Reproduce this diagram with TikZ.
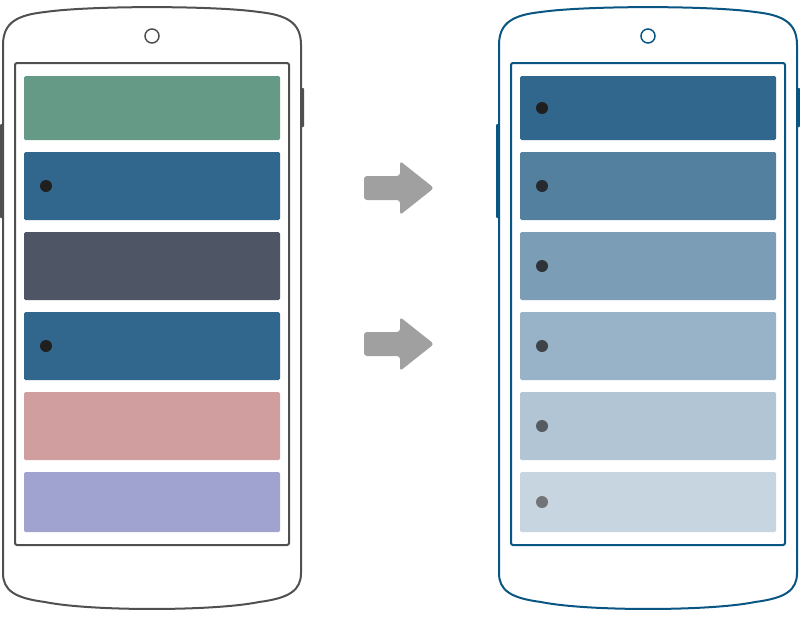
\documentclass[tikz,border=0pt]{standalone}
\usepackage[dvipsnames]{xcolor}
\usepackage{tikz}
\usetikzlibrary{positioning}
\definecolor{oldline}{HTML}{505050}
\definecolor{newline}{HTML}{0A5683}
\definecolor{arrowgray}{HTML}{A0A0A0}
\definecolor{cgreen}{HTML}{659A87}
\definecolor{cblue}{HTML}{32678D}
\definecolor{cslate}{HTML}{4E5565}
\definecolor{cpink}{HTML}{D09E9E}
\definecolor{clav}{HTML}{A0A2CF}
\definecolor{bluea}{HTML}{53809F}
\definecolor{blueb}{HTML}{7B9EB6}
\definecolor{bluec}{HTML}{98B3C7}
\definecolor{blued}{HTML}{B2C5D4}
\definecolor{bluee}{HTML}{C7D5E0}
\tikzset{bar/.style = {rectangle,rounded corners=1.5pt,minimum width=256pt,inner sep=0pt},
         dot/.style = {circle,inner sep=0pt,minimum size=12pt},
         bigarrow/.style = {fill=arrowgray,rounded corners=3pt}}
% outline of one phone, #1 = line colour
\newcommand{\phoneshape}[1]{
    \fill [#1, rounded corners=1pt] (0,124) rectangle (3.5,218);
    \fill [#1, rounded corners=1pt] (300.5,88) rectangle (304,127);
    \draw [#1, line width=2pt, fill=white] (3,45) .. controls (3,22) and (18,15) .. (45,12)
        .. controls (90,5.5) and (214,5.5) .. (259,12)
        .. controls (286,15) and (301,22) .. (301,45) -- (301,573)
        .. controls (301,590) and (290,598) .. (259,602)
        .. controls (214,611.3) and (90,611.3) .. (45,602)
        .. controls (14,598) and (3,590) .. (3,573) -- cycle;
    \draw [#1, line width=1.5pt] (152,36) circle (7);
    \draw [#1, line width=2pt, rounded corners=2pt] (15,63) rectangle (289,545);
}

\begin{document}
\begin{tikzpicture}[x=1pt,y=-1pt]
    \useasboundingbox (0,0) rectangle (800,616);
    \begin{scope}
        \phoneshape{oldline}
        \node [bar, fill=cgreen, minimum height=64pt] (L1) at (152,108) {};
        \node [bar, fill=cblue,  minimum height=68pt] (L2) at (152,186) {};
        \node [bar, fill=cslate, minimum height=68pt] (L3) at (152,266) {};
        \node [bar, fill=cblue,  minimum height=68pt] (L4) at (152,346) {};
        \node [bar, fill=cpink,  minimum height=68pt] (L5) at (152,426) {};
        \node [bar, fill=clav,   minimum height=60pt] (L6) at (152,502) {};
        \node [dot, fill=black!88] (L2dot) at (46,186) {};
        \node [dot, fill=black!88] (L4dot) at (46,346) {};
    \end{scope}

    \fill [bigarrow] (364,176) -- (400,176) -- (400,161) -- (434,188) -- (400,215) -- (400,200) -- (364,200) -- cycle;
    \fill [bigarrow] (364,332) -- (400,332) -- (400,317) -- (434,344) -- (400,371) -- (400,356) -- (364,356) -- cycle;

    \begin{scope}[xshift=496pt]
        \phoneshape{newline}
        \node [bar, fill=cblue, minimum height=64pt] (R1) at (152,108) {};
        \node [bar, fill=bluea, minimum height=68pt] (R2) at (152,186) {};
        \node [bar, fill=blueb, minimum height=68pt] (R3) at (152,266) {};
        \node [bar, fill=bluec, minimum height=68pt] (R4) at (152,346) {};
        \node [bar, fill=blued, minimum height=68pt] (R5) at (152,426) {};
        \node [bar, fill=bluee, minimum height=60pt] (R6) at (152,502) {};
        \node [dot, fill=black!88]          (R1dot) at (46,108) {};
        \node [dot, fill={rgb,255:red,38;green,41;blue,45}] (R2dot) at (46,186) {};
        \node [dot, fill={rgb,255:red,46;green,51;blue,57}] (R3dot) at (46,266) {};
        \node [dot, fill={rgb,255:red,62;green,67;blue,73}] (R4dot) at (46,346) {};
        \node [dot, fill={rgb,255:red,86;green,91;blue,96}] (R5dot) at (46,426) {};
        \node [dot, fill={rgb,255:red,114;green,116;blue,120}] (R6dot) at (46,502) {};
    \end{scope}
\end{tikzpicture}
\end{document}
